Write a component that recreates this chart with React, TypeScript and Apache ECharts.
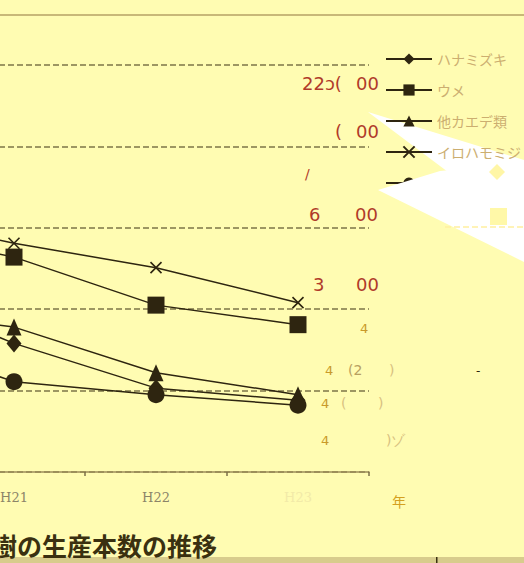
import React, { useEffect, useRef } from "react";
import * as echarts from "echarts";

const categories = ["H20", "H21", "H22", "H23"];
const seriesNames = ["ハナミズキ", "ウメ", "他カエデ類", "イロハモミジ", "ヤマボウシ"];
const hanamizuki = [230, 158, 103, 88];
const ume = [300, 264, 205, 181];
const kaede = [200, 178, 122, 95];
const iroha = [318, 281, 251, 208];
const yamaboushi = [170, 111, 95, 82];
const yTicks = [0, 100, 200, 300, 400, 500];

const DARK = "#2e2510";
const RED = "#b03a2a";
const ORANGE = "#c99a2a";
const OX = 199; // the scanned chart is cropped: its left part lies outside the page

export default function App() {
  const ref = useRef<HTMLDivElement>(null);
  useEffect(() => {
    if (!ref.current) return;
    const chart = echarts.init(ref.current, null, { renderer: "svg" });
    const mk = (name: string, data: number[], symbol: string, size: any, extra: any = {}) => ({
      name,
      type: "line",
      data,
      symbol,
      symbolSize: size,
      lineStyle: { color: DARK, width: 1.5 },
      itemStyle: { color: DARK, ...extra },
      z: 5,
    });
    const txt = (text: string, x: number, y: number, color = RED, size = 18) => ({
      type: "text",
      x: x + OX,
      y,
      z: 20,
      style: {
        text,
        fill: color,
        font: `${size}px "DejaVu Sans"`,
        verticalAlign: "middle",
      },
    });
    const P = (pts: number[][]) => pts.map(([x, y]) => [x + OX, y]);
    const catData = categories.map((c, i) =>
      i === categories.length - 1 ? { value: c, textStyle: { color: "#f2eaa8" } } : c
    );
    chart.setOption({
      animation: false,
      backgroundColor: "#fffcb2",
      grid: { left: 0, right: 155, top: 65, bottom: 91, containLabel: false },
      xAxis: {
        type: "category",
        data: catData,
        boundaryGap: true,
        axisLine: { lineStyle: { color: "#9c8c58", width: 1.5 } },
        axisTick: { show: true, length: 4, lineStyle: { color: "#7c7048", width: 1.5 } },
        axisLabel: {
          color: "#8c8468",
          fontFamily: "DejaVu Serif",
          fontSize: 13,
          margin: 19,
        },
      },
      yAxis: {
        type: "value",
        min: yTicks[0],
        max: yTicks[yTicks.length - 1],
        interval: 100,
        axisLine: { show: false },
        axisTick: { show: false },
        axisLabel: { show: false },
        splitLine: {
          show: true,
          lineStyle: { color: "#7e7448", width: 1.5, type: [6, 3] },
        },
      },
      legend: {
        orient: "vertical",
        left: 380 + OX,
        top: 47,
        itemWidth: 46,
        itemHeight: 14,
        itemGap: 17,
        data: seriesNames,
        textStyle: { color: "#ccae70", fontSize: 14, fontFamily: "Noto Sans CJK JP" },
        z: 6,
      },
      series: [
        mk(seriesNames[0], hanamizuki, "diamond", [15, 18]),
        mk(seriesNames[1], ume, "rect", 17),
        mk(seriesNames[2], kaede, "triangle", [15, 17]),
        mk(seriesNames[3], iroha, "path://M0,0L10,10M0,10L10,0", 11, {
          color: "rgba(0,0,0,0)",
          borderColor: DARK,
          borderWidth: 1.6,
        }),
        mk(seriesNames[4], yamaboushi, "circle", 17),
      ],
      graphic: [
        { type: "rect", shape: { x: OX, y: 14, width: 524, height: 2 }, style: { fill: "#c8b878" }, z: 1 },
        { type: "rect", shape: { x: OX, y: 557, width: 524, height: 6 }, style: { fill: "#d8cc8c" }, z: 1 },
        { type: "rect", shape: { x: 436 + OX, y: 557, width: 1.5, height: 6 }, style: { fill: "#3a3010" }, z: 2 },
        {
          type: "polygon",
          z: 3,
          shape: { points: P([[368, 112], [524, 160], [524, 175], [448, 172]]) },
          style: { fill: "#ffffff" },
        },
        {
          type: "polygon",
          z: 12,
          shape: { points: P([[378, 190], [440, 171], [524, 163], [524, 262]]) },
          style: { fill: "#ffffff" },
        },
        {
          type: "polygon",
          z: 13,
          shape: { points: P([[497, 164], [505, 172], [497, 180], [489, 172]]) },
          style: { fill: "#fff6a6" },
        },
        { type: "rect", z: 13, shape: { x: 490 + OX, y: 208, width: 17, height: 17 }, style: { fill: "#fff8a8" } },
        {
          type: "line",
          z: 13,
          shape: { x1: 445 + OX, y1: 227, x2: 524 + OX, y2: 227 },
          style: { stroke: "#fff0a0", lineWidth: 1.5, lineDash: [6, 3] },
        },
        txt("22ɔ(", 302, 83),
        txt("00", 356, 83),
        txt("(", 335, 131),
        txt("00", 356, 131),
        txt("/", 305, 174, RED, 14),
        txt("6", 309, 214),
        txt("00", 355, 214),
        txt("3", 313, 284),
        txt("00", 356, 284),
        txt("4", 360, 328, ORANGE, 13),
        txt("4", 325, 370, ORANGE, 13),
        txt("(2", 348, 370, "#b8a060", 14),
        txt(")", 389, 370, "#d8c080", 14),
        txt("4", 321, 403, ORANGE, 13),
        txt("(", 341, 403, "#d8c080", 14),
        txt(")", 378, 403, "#d8c080", 14),
        txt("4", 321, 440, ORANGE, 13),
        txt(")ゾ", 386, 440, "#d8c080", 14),
        txt("-", 476, 371, DARK, 12),
        {
          type: "text",
          x: 392 + OX,
          y: 501,
          z: 20,
          style: { text: "年", fill: "#d4a020", font: '14px "Noto Sans CJK JP"', verticalAlign: "middle" },
        },
        {
          type: "text",
          x: -8 + OX,
          y: 545,
          z: 20,
          style: {
            text: "樹の生産本数の推移",
            fill: "#3a3010",
            font: 'bold 25px "Noto Sans CJK JP"',
            verticalAlign: "middle",
          },
        },
      ],
    });
    return () => chart.dispose();
  }, []);
  return (
    <div style={{ position: "absolute", left: 0, top: 0, width: 524, height: 563, overflow: "hidden" }}>
      <div ref={ref} style={{ position: "absolute", left: -OX, top: 0, width: 524 + OX, height: 563 }} />
    </div>
  );
}
